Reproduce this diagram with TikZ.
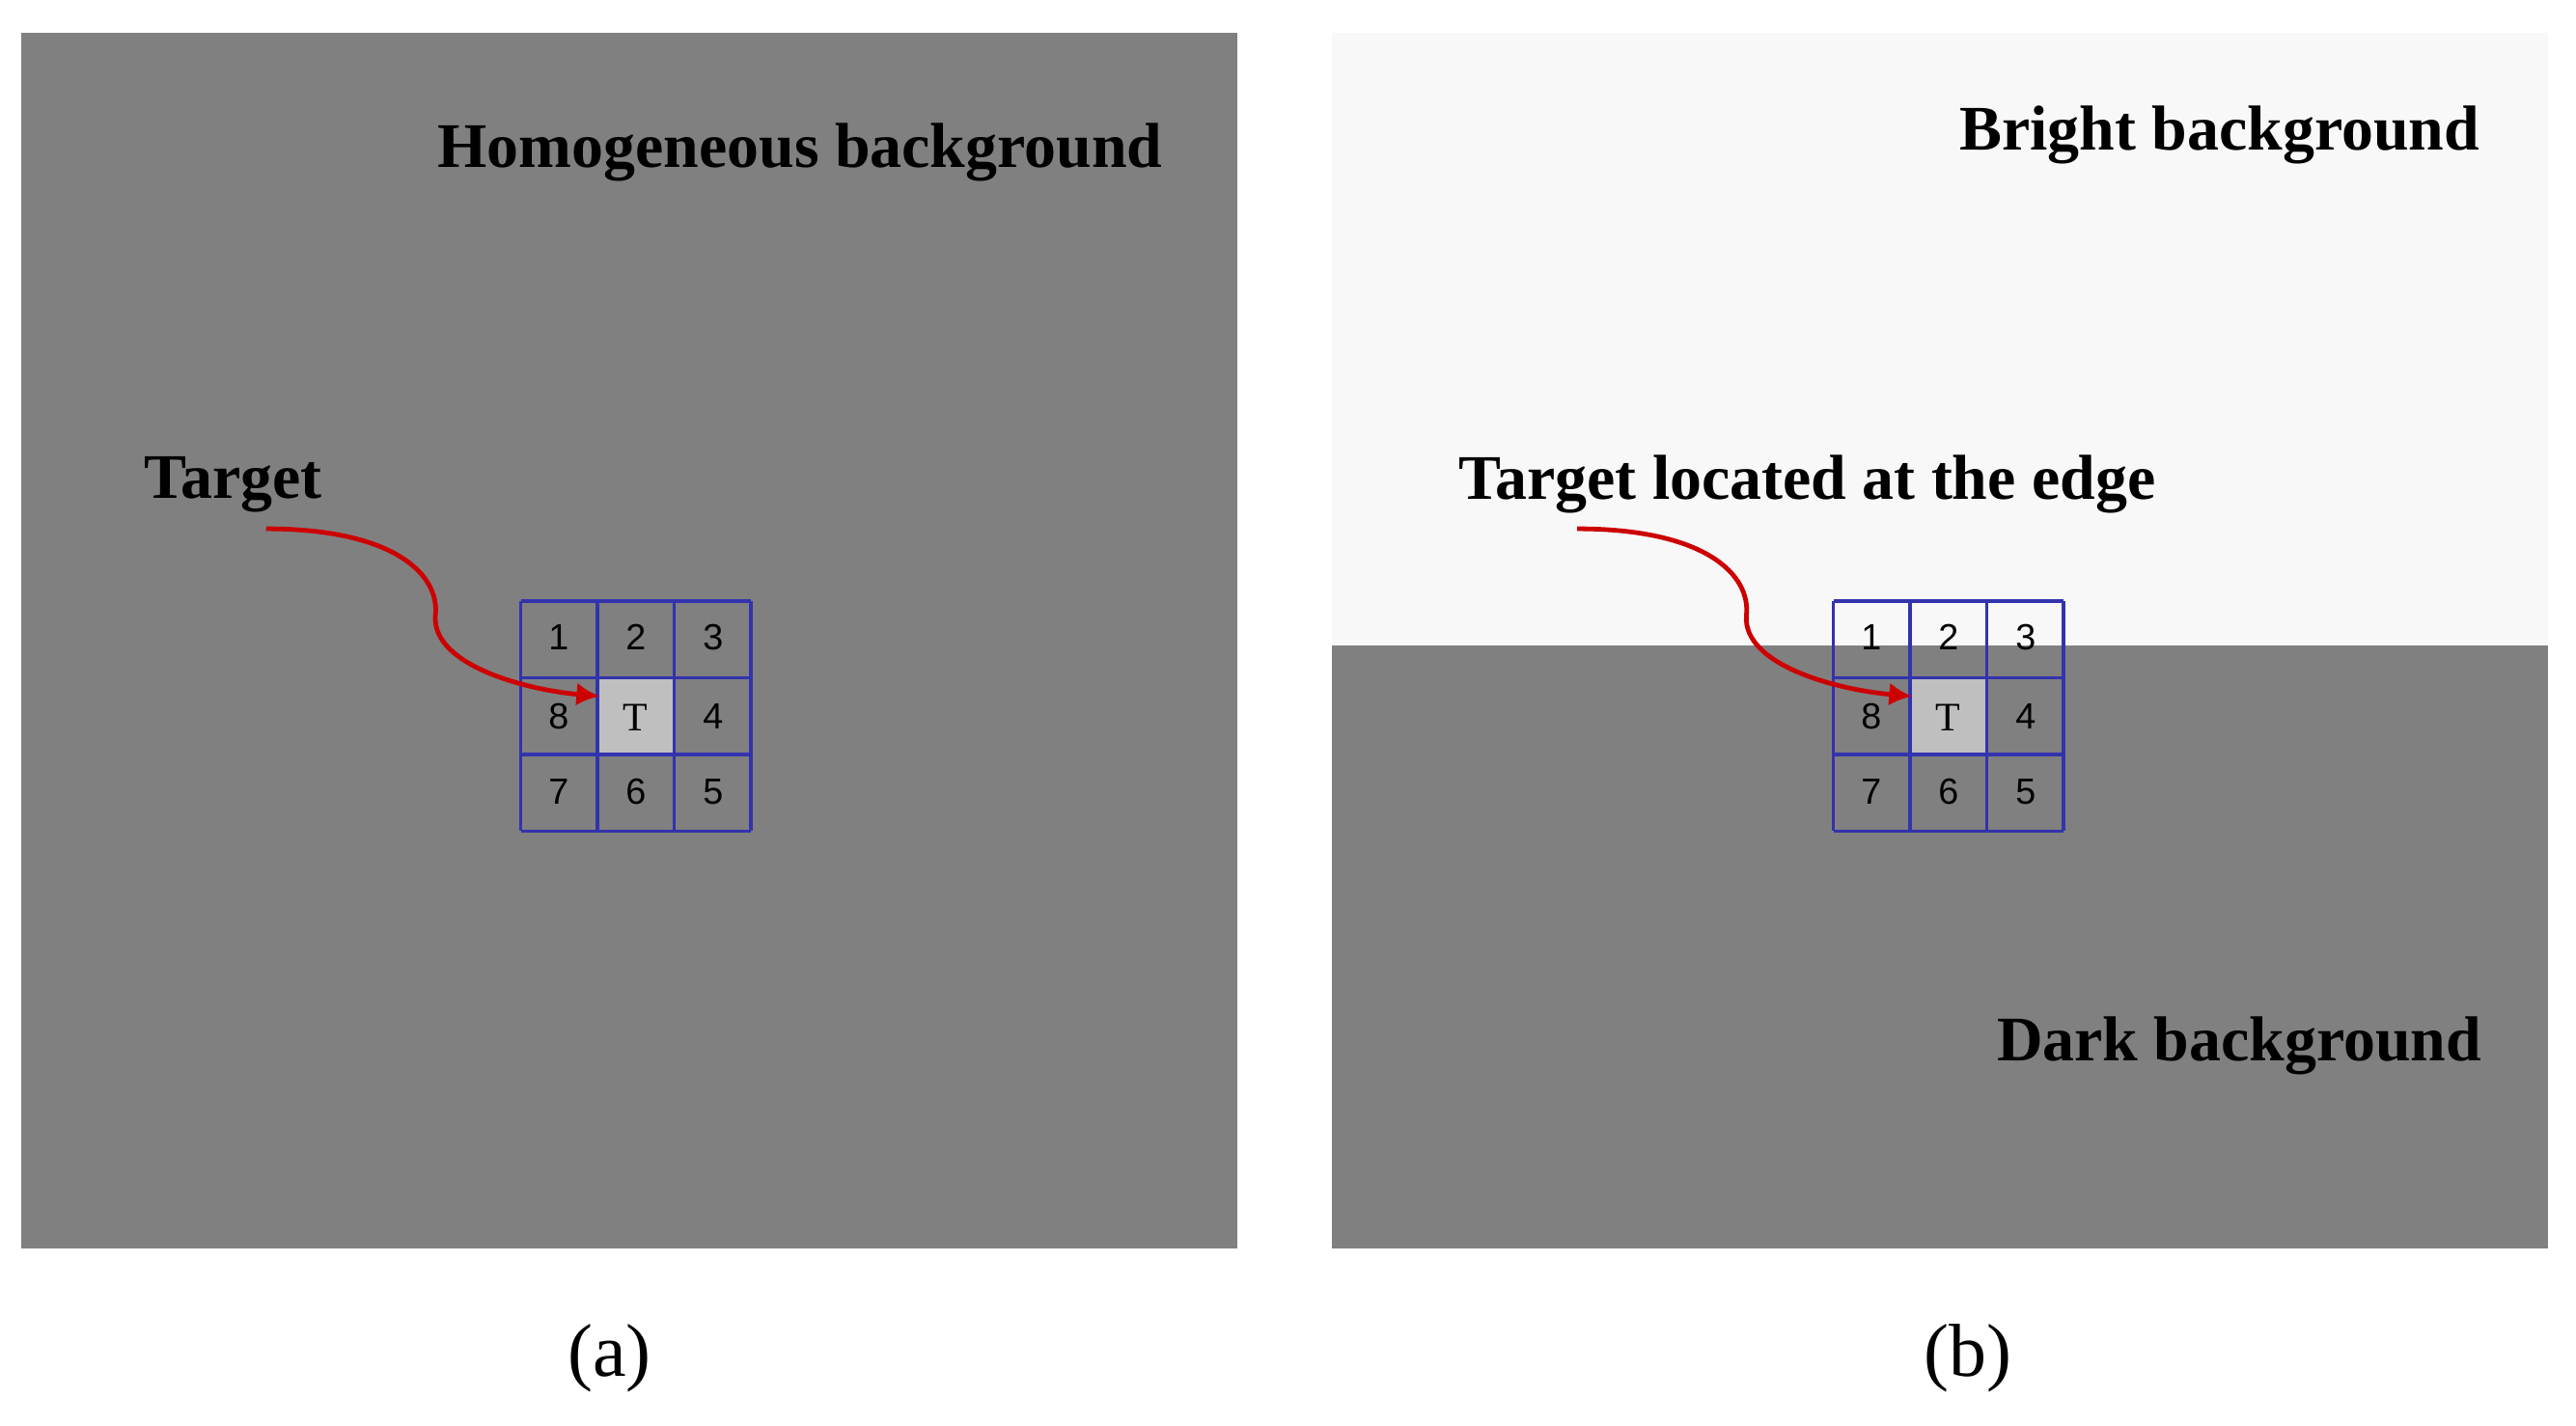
\documentclass[tikz,border=0pt]{standalone}
\usepackage{fontspec}
\setmainfont{Liberation Serif}
\setsansfont{Liberation Sans}
\usetikzlibrary{arrows.meta}
\begin{document}
\begin{tikzpicture}[x=0.01cm,y=-0.01cm,
  lbl/.style={font=\fontsize{11}{13}\selectfont\bfseries},
  num/.style={font=\sffamily\fontsize{6.3}{7}\selectfont},
  captxt/.style={font=\fontsize{13}{15}\selectfont},
  gridline/.style={draw=blue!60!black!80,line width=0.6pt},
  arr/.style={draw=red!80!black,line width=0.8pt,-{Latex[length=4pt,width=4pt]}}]
\useasboundingbox (0,0) rectangle (1568,868);
\definecolor{bgd}{RGB}{128,128,128}
\definecolor{bgl}{RGB}{248,248,248}
% panels
\fill[bgd] (13,20) rectangle (753,760);
\fill[bgl] (811,20) rectangle (1551,393);
\fill[bgd] (811,393) rectangle (1551,760);
% grids
\foreach \ox/\nm in {317/a,1116/b}{
  \fill[gray!50] (\ox+46.7,413) rectangle (\ox+93.3,459);
  \draw[blue!40,line width=0.5pt] (\ox+46.7,413) rectangle (\ox+93.3,459);
  \foreach \i in {0,1,2,3}{
    \draw[gridline] (\ox+\i*46.7,366) -- (\ox+\i*46.7,506);
    \draw[gridline] (\ox,366+\i*46.7) -- (\ox+140,366+\i*46.7);
  }
  \node[num] (\nm1) at (\ox+23,388) {1};
  \node[num] (\nm2) at (\ox+70,388) {2};
  \node[num] (\nm3) at (\ox+117,388) {3};
  \node[num] (\nm8) at (\ox+23,436) {8};
  \node[font=\fontsize{7}{8}\selectfont] (\nm T) at (\ox+70,437) {T};
  \node[num] (\nm4) at (\ox+117,436) {4};
  \node[num] (\nm7) at (\ox+23,482) {7};
  \node[num] (\nm6) at (\ox+70,482) {6};
  \node[num] (\nm5) at (\ox+117,482) {5};
}
\node[lbl] (ha) at (487,93) {Homogeneous background};
\node[lbl] (ta) at (142,295) {Target};
\node[lbl] (hb) at (1351,82) {Bright background};
\node[lbl] (tb) at (1100,295) {Target located at the edge};
\node[lbl] (db) at (1363,637) {Dark background};
\node[captxt] (capa) at (371,827) {(a)};
\node[captxt] (capb) at (1198,827) {(b)};
\coordinate (sa) at (162,322); \coordinate (ea) at (365,424);
\coordinate (sb) at (960,322); \coordinate (eb) at (1164,424);
\draw[arr] (sa) .. controls (240,322) and (268,350) .. (265,375) .. controls (263,405) and (320,420) .. (ea);
\draw[arr] (sb) .. controls (1038,322) and (1066,350) .. (1063,375) .. controls (1061,405) and (1118,420) .. (eb);
\end{tikzpicture}
\end{document}
